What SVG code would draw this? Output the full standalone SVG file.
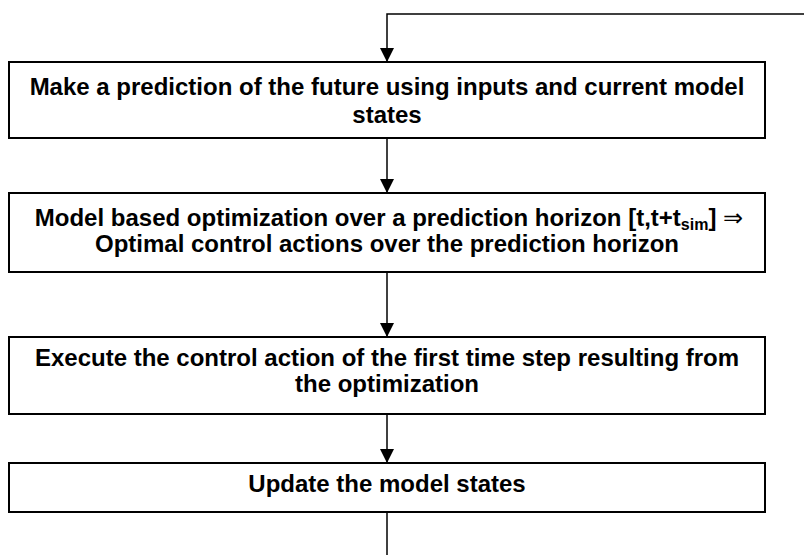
<svg xmlns="http://www.w3.org/2000/svg" width="804" height="555" viewBox="0 0 804 555">
<style>
.box{fill:#fff;stroke:#000;stroke-width:2}
.t{font-family:"Liberation Sans",Arial,sans-serif;font-weight:bold;font-size:24px;text-anchor:middle;fill:#000}
.sub{font-size:16px}
.sym{font-family:"DejaVu Sans",sans-serif;font-weight:normal}
.c{fill:none;stroke:#000;stroke-width:1.5}
</style>
<defs>
<marker id="ah" markerWidth="14" markerHeight="14" refX="14" refY="7" orient="auto" markerUnits="userSpaceOnUse">
<path d="M0,0 L14,7 L0,14 Z" fill="#000"/>
</marker>
</defs>
<g id="connectors">
<path class="c" d="M804,14 H387 V62" marker-end="url(#ah)"/>
<path class="c" d="M387,138 V193" marker-end="url(#ah)"/>
<path class="c" d="M387,272 V337" marker-end="url(#ah)"/>
<path class="c" d="M387,414 V463" marker-end="url(#ah)"/>
<path class="c" d="M387,512 V555"/>
</g>
<g id="node1">
<rect class="box" x="9" y="62" width="756" height="76"/>
<text class="t" x="387" y="95">Make a prediction of the future using inputs and current model</text>
<text class="t" x="387" y="123">states</text>
</g>
<g id="node2">
<rect class="box" x="9" y="193" width="756" height="79"/>
<text class="t" x="389" y="226">Model based optimization over a prediction horizon [t,t+t<tspan class="sub" dy="4">sim</tspan><tspan dy="-4">] </tspan><tspan class="sym">⇒</tspan></text>
<text class="t" x="387" y="252">Optimal control actions over the prediction horizon</text>
</g>
<g id="node3">
<rect class="box" x="9" y="337" width="756" height="77"/>
<text class="t" x="387" y="366">Execute the control action of the first time step resulting from</text>
<text class="t" x="387" y="392">the optimization</text>
</g>
<g id="node4">
<rect class="box" x="9" y="463" width="756" height="49"/>
<text class="t" x="387" y="492">Update the model states</text>
</g>
</svg>
